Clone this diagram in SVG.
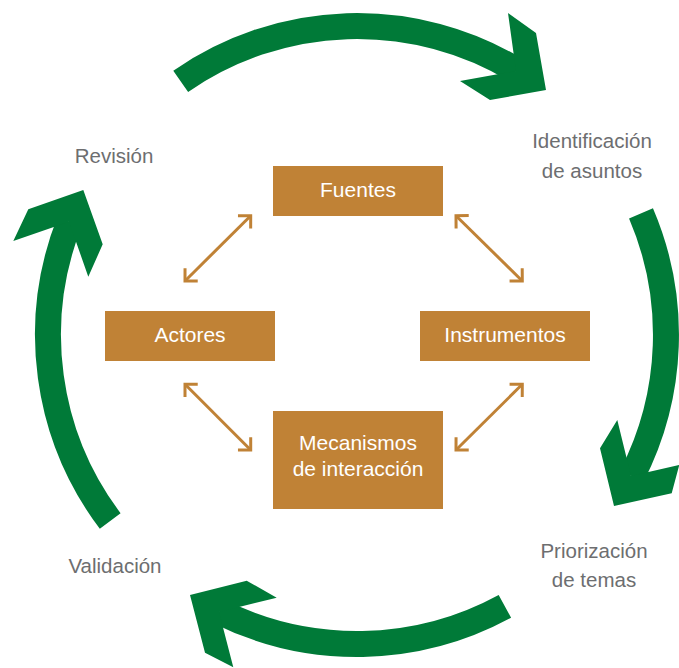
<svg xmlns="http://www.w3.org/2000/svg" width="679" height="668" viewBox="0 0 679 668">
<style>
.arc{fill:none;stroke:#007a38;stroke-width:26;stroke-linecap:butt}
.head{fill:#007a38}
.box{fill:#c08236}
.bt{font-family:"Liberation Sans",Arial,sans-serif;font-size:21px;fill:#ffffff;text-anchor:middle}
.lt{font-family:"Liberation Sans",Arial,sans-serif;font-size:20.5px;fill:#6d6e70;text-anchor:middle}
.link{stroke:#c08236;stroke-width:3;fill:none;marker-start:url(#chev);marker-end:url(#chev)}
</style>
<defs>
<marker id="chev" markerUnits="userSpaceOnUse" markerWidth="30" markerHeight="30" refX="0" refY="0" orient="auto-start-reverse" overflow="visible">
<path d="M-9,-9 L0,0 L-9,9" fill="none" stroke="#c08236" stroke-width="3"/>
</marker>
</defs>
<rect width="679" height="668" fill="#ffffff"/>
<g id="cycle">
<g id="arrow-top">
<path class="arc" d="M180.7,81.3 A309,309 0 0 1 516.6,70.4"/>
<polygon class="head" points="546,90 536,33 508,13 516,71 460,81 490,100"/>
</g>
<g id="arrow-right">
<path class="arc" d="M641,213.3 A309,309 0 0 1 631.8,476.2"/>
<polygon class="head" points="614,506 600,448.3 617.3,420 631,476 679.3,465 671.7,493.3"/>
</g>
<g id="arrow-bottom">
<path class="arc" d="M504.9,606.3 A309,309 0 0 1 219.1,611.5"/>
<polygon class="head" points="190,595 246.7,580.7 276.7,597.7 219,611.9 233.3,667.3 205,652.7"/>
</g>
<g id="arrow-left">
<path class="arc" d="M110.2,521 A309,309 0 0 1 69.5,221.8"/>
<polygon class="head" points="83.3,190 28.3,209.3 13.3,241 69,221.8 88.3,276.7 102.7,244.3"/>
</g>
</g>
<g id="stage-labels">
<text id="revision" class="lt" x="114" y="163">Revisión</text>
<text id="identificacion" class="lt" x="592" y="148"><tspan x="592">Identificación</tspan><tspan x="592" y="178">de asuntos</tspan></text>
<text id="priorizacion" class="lt" x="594" y="558"><tspan x="594">Priorización</tspan><tspan x="594" y="587">de temas</tspan></text>
<text id="validacion" class="lt" x="115" y="573">Validación</text>
</g>
<g id="connectors">
<line class="link" x1="250.7" y1="215.7" x2="185" y2="281"/>
<line class="link" x1="456" y1="215.7" x2="522.3" y2="281"/>
<line class="link" x1="185" y1="384.3" x2="250.7" y2="450"/>
<line class="link" x1="522.3" y1="384.3" x2="456" y2="450"/>
</g>
<g id="fuentes">
<rect class="box" x="273" y="166" width="170" height="50"/>
<text class="bt" x="358" y="197">Fuentes</text>
</g>
<g id="actores">
<rect class="box" x="105" y="311" width="170" height="50"/>
<text class="bt" x="190" y="342">Actores</text>
</g>
<g id="instrumentos">
<rect class="box" x="420" y="311" width="170" height="50"/>
<text class="bt" x="505" y="342">Instrumentos</text>
</g>
<g id="mecanismos">
<rect class="box" x="273" y="411" width="170" height="98"/>
<text class="bt" x="358" y="450"><tspan x="358">Mecanismos</tspan><tspan x="358" y="476">de interacción</tspan></text>
</g>
</svg>
